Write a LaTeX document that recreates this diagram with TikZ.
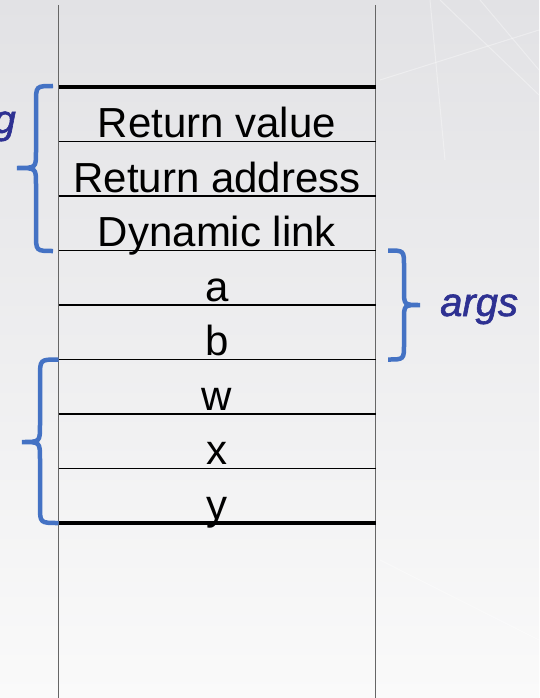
\documentclass[tikz,border=0pt]{standalone}
\usepackage{fontspec}
\setmainfont{Liberation Sans}
\newfontfamily\lblfont[ItalicFeatures={FakeBold=1.5}]{Liberation Sans}
\definecolor{braceblue}{RGB}{68,114,196}
\definecolor{labelblue}{RGB}{46,49,146}
\definecolor{bgtop}{RGB}{226,226,229}
\definecolor{bgbot}{RGB}{250,250,250}
\begin{document}
\begin{tikzpicture}[x=1pt,y=-1pt,
  cell/.style={font=\fontsize{42}{42}\selectfont, anchor=base, inner sep=0pt},
  sep/.style={line width=1.2pt, black},
  bound/.style={line width=4pt, black},
  wall/.style={line width=1.6pt, black!60},
  brc/.style={line width=4.5pt, braceblue},
  lbl/.style={font=\fontsize{40}{40}\lblfont\itshape, text=labelblue, inner sep=0pt},
  streak/.style={white, line width=1pt, opacity=0.35}]

% page background
\fill[top color=bgtop, bottom color=bgbot] (0,0) rectangle (539,698);
\useasboundingbox (0,0) rectangle (539,698);
% faint streaks in the backdrop
\draw[streak] (440,0) -- (539,95);
\draw[streak] (480,0) -- (539,70);
\draw[streak] (380,80) -- (539,30);
\draw[streak] (430,0) -- (445,160);
\draw[streak] (380,560) -- (539,640);

% side walls of the stack
\coordinate (wlt) at (58.5,5);   \coordinate (wlb) at (58.5,698);
\coordinate (wrt) at (375.5,5);  \coordinate (wrb) at (375.5,698);
\draw[wall] (wlt) -- (wlb);
\draw[wall] (wrt) -- (wrb);

% row boundaries
\foreach \i/\yy in {0/87,1/141.5,2/196,3/250.5,4/305,5/359.5,6/414,7/468.5,8/523}{
  \coordinate (L\i) at (58.5,\yy);
  \coordinate (R\i) at (375.5,\yy);
}
\foreach \i in {1,...,7}{ \draw[sep] (L\i) -- (R\i); }

% cell contents, set on the lower boundary of each row
\foreach \i/\yy/\t in {1/137.5/Return value,2/192/Return address,3/246.5/Dynamic link,
                       4/301/a,5/355.5/b,6/410/w,7/464.5/x,8/519/y}{
  \node[cell] (c\i) at (217,\yy) {\t};
}

% frame boundaries
\draw[bound] (L0) -- (R0);
\draw[bound] (L8) -- (R8);

% brace over the bookkeeping rows
\draw[brc] (53,86) .. controls (36,86) .. (36,103) -- (36,152)
  .. controls (36,168) .. (17,168) .. controls (36,168) .. (36,184)
  -- (36,234) .. controls (36,251) .. (53,251);
\node[lbl, anchor=base east] (g) at (16,133) {g};

% brace over the arguments
\draw[brc] (388,250.5) .. controls (404,250.5) .. (404,266) -- (404,290)
  .. controls (404,305) .. (420,305) .. controls (404,305) .. (404,320)
  -- (404,344) .. controls (404,359.5) .. (388,359.5);
\node[lbl, anchor=base west] (args) at (440,316) {args};

% brace over the locals
\draw[brc] (L5) .. controls (40,359.5) .. (40,377) -- (40,425)
  .. controls (40,442) .. (22,442) .. controls (40,442) .. (40,459)
  -- (40,506) .. controls (40,523) .. (L8);
\end{tikzpicture}
\end{document}
